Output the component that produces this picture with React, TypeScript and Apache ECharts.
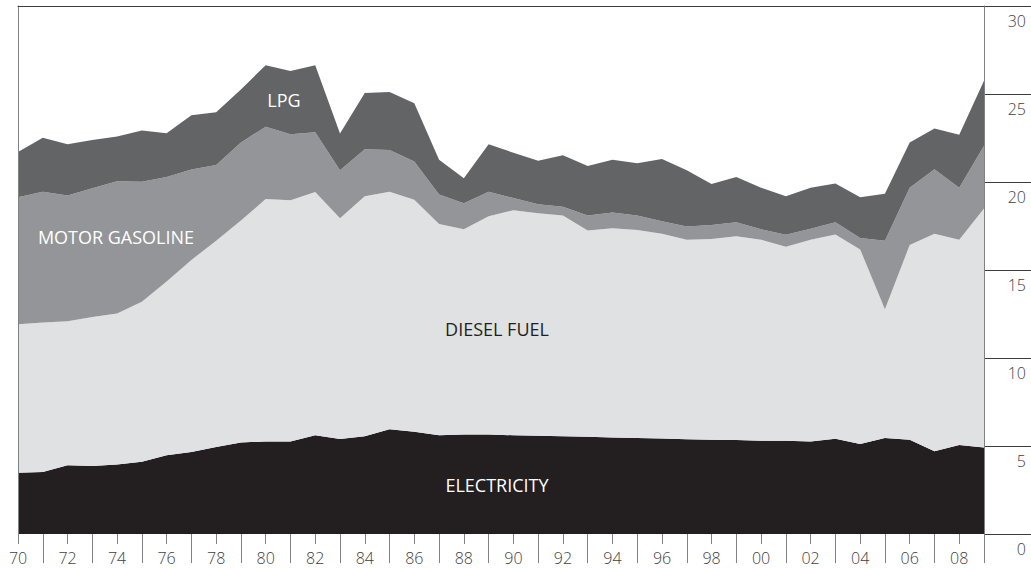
import React, { useEffect, useRef } from "react";
import * as echarts from "echarts";

const years = [
  "1970", "1971", "1972", "1973", "1974", "1975", "1976", "1977", "1978", "1979",
  "1980", "1981", "1982", "1983", "1984", "1985", "1986", "1987", "1988", "1989",
  "1990", "1991", "1992", "1993", "1994", "1995", "1996", "1997", "1998", "1999",
  "2000", "2001", "2002", "2003", "2004", "2005", "2006", "2007", "2008", "2009",
];

const electricity = [
  3.48, 3.52, 3.91, 3.87, 3.95, 4.11, 4.47, 4.66, 4.94, 5.2,
  5.26, 5.26, 5.61, 5.4, 5.55, 5.95, 5.81, 5.61, 5.65, 5.65,
  5.61, 5.58, 5.55, 5.52, 5.49, 5.46, 5.43, 5.39, 5.36, 5.34,
  5.3, 5.3, 5.26, 5.41, 5.12, 5.45, 5.36, 4.7, 5.06, 4.92,
];

const dieselFuel = [
  8.44, 8.5, 8.18, 8.46, 8.58, 9.09, 9.88, 10.91, 11.72, 12.61,
  13.77, 13.71, 13.82, 12.54, 13.64, 13.5, 13.18, 12.0, 11.66, 12.41,
  12.79, 12.64, 12.55, 11.73, 11.88, 11.81, 11.63, 11.33, 11.4, 11.58,
  11.42, 11.02, 11.46, 11.61, 11.05, 7.32, 11.06, 12.36, 11.66, 13.58,
];

const motorGasoline = [
  7.21, 7.43, 7.14, 7.31, 7.51, 6.82, 5.93, 5.14, 4.31, 4.44,
  4.11, 3.74, 3.4, 2.73, 2.67, 2.37, 2.18, 1.68, 1.48, 1.39,
  0.69, 0.52, 0.5, 0.85, 0.89, 0.83, 0.71, 0.75, 0.79, 0.79,
  0.59, 0.68, 0.63, 0.69, 0.65, 3.89, 3.26, 3.67, 2.96, 3.56,
];

const lpg = [
  2.57, 3.06, 2.92, 2.75, 2.55, 2.9, 2.49, 3.08, 3.0, 3.01,
  3.5, 3.59, 3.81, 2.08, 3.2, 3.3, 3.3, 1.97, 1.43, 2.7,
  2.57, 2.47, 2.92, 2.81, 3.0, 2.97, 3.53, 3.2, 2.33, 2.57,
  2.37, 2.19, 2.33, 2.21, 2.31, 2.67, 2.57, 2.31, 3.01, 3.69,
];

const FONT = "'Open Sans', 'Noto Sans', sans-serif";
const TEXT_COLOR = "#414042";
const RULE_COLOR = "#3c3c3c";
const FRAME_COLOR = "#808285";

export default function App() {
  const ref = useRef<HTMLDivElement>(null);

  useEffect(() => {
    if (!ref.current) return;
    const chart = echarts.init(ref.current, null, { renderer: "svg" });

    const areaSeries = (name: string, data: number[], color: string) => ({
      name,
      type: "line",
      stack: "total",
      data,
      xAxisIndex: 0,
      yAxisIndex: 0,
      symbol: "none",
      showSymbol: false,
      lineStyle: { width: 0, color },
      areaStyle: { color, opacity: 1 },
      itemStyle: { color },
      z: 2,
    });

    const label = (text: string, x: number, y: number, fill: string) => ({
      type: "text",
      x,
      y,
      z: 100,
      style: {
        text,
        fill,
        fontSize: 18,
        fontWeight: 400,
        fontFamily: FONT,
        align: "center",
        verticalAlign: "middle",
      },
    });

    chart.setOption({
      animation: false,
      backgroundColor: "#ffffff",
      grid: [
        { left: 18, right: 47, top: 6, bottom: 35, containLabel: false },
        { left: 984, right: 0, top: 6, bottom: 35, containLabel: false },
      ],
      xAxis: [
        {
          type: "category",
          gridIndex: 0,
          data: years,
          boundaryGap: false,
          position: "bottom",
          z: 10,
          axisLine: { show: false },
          axisTick: {
            show: true,
            interval: (i: number) => i % 2 === 0,
            length: 10,
            lineStyle: { color: FRAME_COLOR, width: 1 },
          },
          axisLabel: {
            interval: (i: number) => i % 2 === 0,
            formatter: (v: string) => v.slice(2),
            margin: 16,
            fontSize: 16,
            fontWeight: 300,
            fontFamily: FONT,
            color: TEXT_COLOR,
          },
          splitLine: { show: false },
        },
        {
          type: "category",
          gridIndex: 0,
          data: years,
          boundaryGap: false,
          position: "bottom",
          z: 10,
          axisLine: { show: false },
          axisTick: {
            show: true,
            interval: (i: number) => i % 2 === 1,
            length: 29,
            lineStyle: { color: FRAME_COLOR, width: 1 },
          },
          axisLabel: { show: false },
          splitLine: { show: false },
        },
        {
          type: "category",
          gridIndex: 0,
          data: years,
          boundaryGap: false,
          position: "top",
          z: 10,
          axisLine: { show: true, lineStyle: { color: RULE_COLOR, width: 1 } },
          axisTick: { show: false },
          axisLabel: { show: false },
          splitLine: { show: false },
        },
        {
          type: "value",
          gridIndex: 1,
          min: 0,
          max: 1,
          show: false,
        },
      ],
      yAxis: [
        {
          type: "value",
          gridIndex: 0,
          position: "left",
          min: 0,
          max: 30,
          interval: 5,
          z: 10,
          axisLine: { show: true, onZero: false, lineStyle: { color: FRAME_COLOR, width: 1 } },
          axisTick: { show: false },
          axisLabel: { show: false },
          splitLine: { show: false },
        },
        {
          type: "value",
          gridIndex: 1,
          position: "left",
          min: 0,
          max: 30,
          interval: 5,
          z: 10,
          axisLine: { show: true, onZero: false, lineStyle: { color: FRAME_COLOR, width: 1 } },
          axisTick: { show: false },
          splitLine: {
            show: true,
            showMinLine: true,
            showMaxLine: true,
            lineStyle: { color: RULE_COLOR, width: 1, type: "solid" },
          },
          axisLabel: {
            inside: true,
            align: "right",
            verticalAlign: "top",
            margin: 42,
            padding: [7, 0, 0, 0],
            fontSize: 16,
            fontWeight: 300,
            fontFamily: FONT,
            color: TEXT_COLOR,
          },
        },
      ],
      series: [
        areaSeries("ELECTRICITY", electricity, "#231f20"),
        areaSeries("DIESEL FUEL", dieselFuel, "#e0e1e3"),
        areaSeries("MOTOR GASOLINE", motorGasoline, "#939598"),
        areaSeries("LPG", lpg, "#636466"),
      ],
      graphic: [
        label("LPG", 284, 100, "#ffffff"),
        label("MOTOR GASOLINE", 116, 237, "#ffffff"),
        label("DIESEL FUEL", 497, 329, "#231f20"),
        label("ELECTRICITY", 497, 485, "#ffffff"),
      ],
    });

    return () => chart.dispose();
  }, []);

  return (
    <div
      ref={ref}
      style={{ position: "absolute", left: 0, top: 0, width: 1031, height: 569 }}
    />
  );
}
